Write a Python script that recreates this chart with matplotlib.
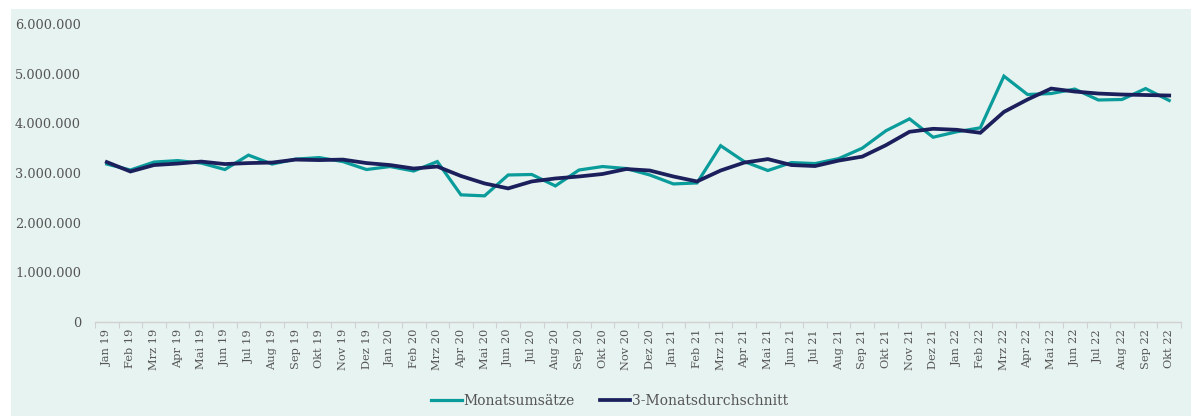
import matplotlib
matplotlib.use("Agg")
import matplotlib.pyplot as plt
from matplotlib.patches import Rectangle
from matplotlib.ticker import FuncFormatter, FixedLocator
import numpy as np

# Monate Jan 19 - Okt 22
months = ["Jan", "Feb", "Mrz", "Apr", "Mai", "Jun", "Jul", "Aug", "Sep", "Okt", "Nov", "Dez"]
labels = [f"{m} {y}" for y in (19, 20, 21, 22) for m in months][:46]

# Werte in Mio. EUR (aus dem Bild geschaetzt)
umsatz = [3.18, 3.06, 3.22, 3.25, 3.20, 3.07, 3.36, 3.18, 3.28, 3.31, 3.23, 3.07,
          3.13, 3.04, 3.23, 2.56, 2.54, 2.96, 2.97, 2.74, 3.06, 3.13, 3.09, 2.96,
          2.78, 2.80, 3.55, 3.23, 3.05, 3.21, 3.19, 3.29, 3.50, 3.85, 4.09, 3.72,
          3.83, 3.91, 4.95, 4.58, 4.60, 4.69, 4.47, 4.48, 4.70, 4.46]
schnitt = [3.22, 3.03, 3.16, 3.19, 3.23, 3.18, 3.20, 3.21, 3.27, 3.26, 3.27, 3.20,
           3.16, 3.09, 3.13, 2.94, 2.79, 2.69, 2.83, 2.89, 2.93, 2.98, 3.08, 3.05,
           2.93, 2.83, 3.05, 3.21, 3.28, 3.16, 3.14, 3.25, 3.33, 3.56, 3.83, 3.89,
           3.87, 3.81, 4.23, 4.48, 4.70, 4.64, 4.60, 4.58, 4.57, 4.56]

umsatz = np.array(umsatz) * 1e6
schnitt = np.array(schnitt) * 1e6
x = np.arange(len(labels))

plt.rcParams["font.family"] = ["DejaVu Serif"]
text_col = "#555555"
bg_col = "#e7f3f0"

fig = plt.figure(figsize=(11.91, 4.16), dpi=100)
fig.patch.set_facecolor("white")
fig.patches.append(Rectangle((11 / 1191, 0), 1 - 11 / 1191, 1 - 9 / 416,
                             transform=fig.transFigure, facecolor=bg_col,
                             edgecolor="none", zorder=-10))

ax = fig.add_axes([95 / 1191, 94 / 416, 1086 / 1191, 298 / 416])
ax.set_facecolor("none")

ax.plot(x, umsatz, color="#0a9b9b", lw=2.3, label="Monatsumsätze", solid_joinstyle="miter")
ax.plot(x, schnitt, color="#1b1f5c", lw=2.7, label="3-Monatsdurchschnitt", solid_joinstyle="miter")

ax.set_xlim(-0.5, len(labels) - 0.5)
ax.set_ylim(0, 6e6)
ax.set_yticks(np.arange(0, 6.01e6, 1e6))
ax.yaxis.set_major_formatter(FuncFormatter(lambda v, p: f"{int(v):,}".replace(",", ".")))
ax.tick_params(axis="y", length=0, pad=10, labelsize=9.3, labelcolor=text_col)

ax.set_xticks(x)
ax.set_xticklabels(labels, rotation=90)
ax.xaxis.set_minor_locator(FixedLocator(np.arange(-0.5, len(labels), 1)))
ax.tick_params(axis="x", which="major", length=0, pad=5, labelsize=8.2, labelcolor=text_col)
ax.tick_params(axis="x", which="minor", length=4, width=0.8, color="#d0d0d0")

for s in ["top", "right", "left"]:
    ax.spines[s].set_visible(False)
ax.spines["bottom"].set_color("#d0d0d0")
ax.spines["bottom"].set_linewidth(1.0)

fig.legend(loc="center", bbox_to_anchor=(0.512, 0.036), ncol=2, frameon=False,
           handlelength=2.2, handletextpad=0.15, columnspacing=1.8,
           prop={"size": 10}, labelcolor=text_col)

fig.savefig("out.png", dpi=100)
